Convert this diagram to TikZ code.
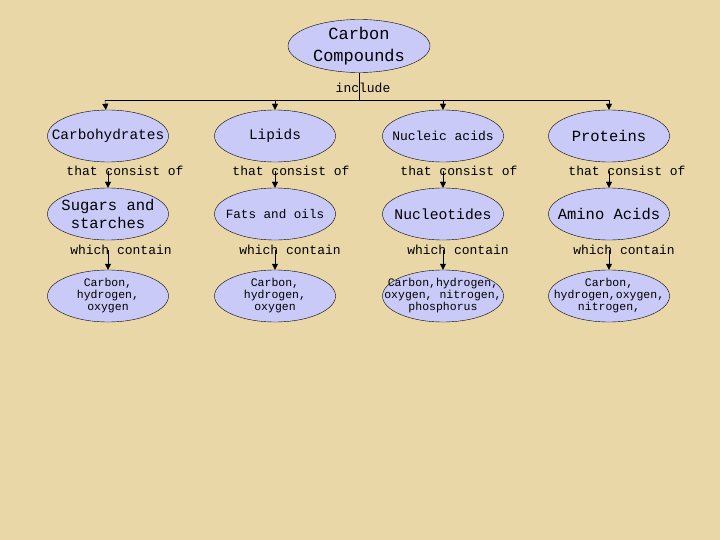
\documentclass[tikz,border=0pt]{standalone}
\usepackage{fontspec}
\setmainfont{Liberation Mono}
\usepackage{xcolor}
\usetikzlibrary{shapes.geometric,arrows.meta,positioning}
\definecolor{parch}{RGB}{233,215,168}
\definecolor{lav}{RGB}{202,202,248}

\begin{document}
\begin{tikzpicture}[x=1pt,y=-1pt,
    bubble/.style={ellipse,draw=black,fill=lav,minimum width=121pt,minimum height=52pt,inner sep=0pt},
    inside/.style={align=center},
    linktext/.style={font=\fontsize{13}{15}\selectfont},
    arr/.style={-{Triangle[length=6pt,width=6pt]}}]

        % Draw the background
        \fill[parch] (0,0) rectangle (720,540);
        \useasboundingbox (0,0) rectangle (720,540);

        % Draw the top node
        \node[bubble,minimum width=142pt,minimum height=53pt] (cc) at (359,46) {};
        \node[inside,font=\fontsize{17}{22}\selectfont] at (cc) {Carbon\\Compounds};
        \coordinate (split) at (359,100);
        \draw (cc) -- (split);
        \node[linktext] (incl) at (363,88) {include};

        % Draw the branch line
        \coordinate (b1) at (105,100);
        \coordinate (b2) at (275,100);
        \coordinate (b3) at (443,100);
        \coordinate (b4) at (609,100);
        \draw (b1) -- (b4);

        % Draw the first row
        \node[bubble] (carb) at (108,136) {};
        \node[bubble] (lip) at (275,136) {};
        \node[bubble] (nuc) at (443,136) {};
        \node[bubble] (prot) at (609,136) {};
        \node[inside,font=\fontsize{14.4}{17}\selectfont] at (carb) {Carbohydrates};
        \node[inside,font=\fontsize{14.4}{17}\selectfont] at (lip) {Lipids};
        \node[inside,font=\fontsize{13}{16}\selectfont] at (nuc) {Nucleic acids};
        \node[inside,font=\fontsize{15.5}{18}\selectfont] at (prot) {Proteins};
        \draw[arr] (b1) -- (carb);
        \draw[arr] (b2) -- (lip);
        \draw[arr] (b3) -- (nuc);
        \draw[arr] (b4) -- (prot);

        % Draw the first labels
        \node[linktext] (tc1) at (125,171) {that consist of};
        \node[linktext] (tc2) at (291,171) {that consist of};
        \node[linktext] (tc3) at (459,171) {that consist of};
        \node[linktext] (tc4) at (627,171) {that consist of};

        % Draw the second row
        \node[bubble] (sug) at (108,214) {};
        \node[bubble] (fat) at (275,214) {};
        \node[bubble] (nucl) at (443,214) {};
        \node[bubble] (amino) at (609,214) {};
        \node[inside,font=\fontsize{15.5}{18}\selectfont] at (sug) {Sugars and\\starches};
        \node[inside,font=\fontsize{12.6}{15}\selectfont] at (fat) {Fats and oils};
        \node[inside,font=\fontsize{14.7}{17}\selectfont] at (nucl) {Nucleotides};
        \node[inside,font=\fontsize{15.5}{18}\selectfont] at (amino) {Amino Acids};
        \draw[arr] (carb |- tc1) -- (sug);
        \draw[arr] (lip |- tc2) -- (fat);
        \draw[arr] (nuc |- tc3) -- (nucl);
        \draw[arr] (prot |- tc4) -- (amino);

        % Draw the second labels
        \node[linktext] (wc1) at (121,250) {which contain};
        \node[linktext] (wc2) at (290,250) {which contain};
        \node[linktext] (wc3) at (458,250) {which contain};
        \node[linktext] (wc4) at (624,250) {which contain};

        % Draw the third row
        \node[bubble] (carbel) at (108,296) {};
        \node[bubble] (fatel) at (275,296) {};
        \node[bubble] (nucel) at (443,296) {};
        \node[bubble] (amel) at (609,296) {};
        \node[inside,font=\fontsize{11.5}{12}\selectfont] at (carbel) {Carbon,\\hydrogen,\\oxygen};
        \node[inside,font=\fontsize{11.5}{12}\selectfont] at (fatel) {Carbon,\\hydrogen,\\oxygen};
        \node[inside,font=\fontsize{11.5}{12}\selectfont] at (nucel) {Carbon,hydrogen,\\oxygen, nitrogen,\\phosphorus};
        \node[inside,font=\fontsize{11.5}{12}\selectfont] at (amel) {Carbon,\\hydrogen,oxygen,\\nitrogen,};
        \draw[arr] (sug |- wc1) -- (carbel);
        \draw[arr] (fat |- wc2) -- (fatel);
        \draw[arr] (nucl |- wc3) -- (nucel);
        \draw[arr] (amino |- wc4) -- (amel);

    \end{tikzpicture}
\end{document}
